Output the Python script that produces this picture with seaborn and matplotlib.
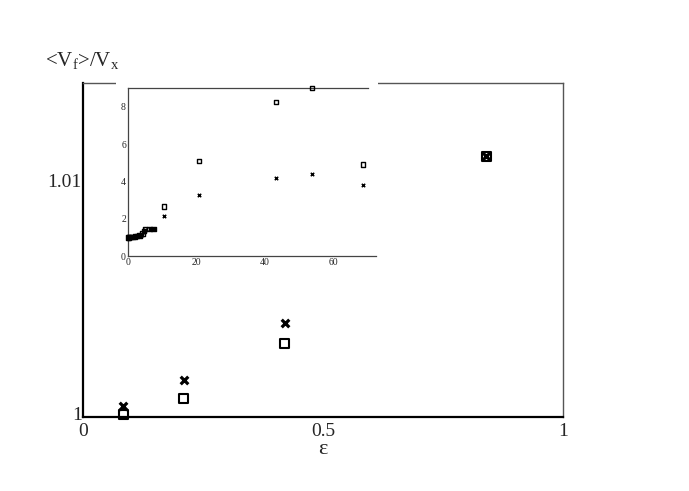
import matplotlib
matplotlib.use("Agg")
import matplotlib.pyplot as plt
import matplotlib.transforms as mtransforms
import seaborn as sns
import pandas as pd
from matplotlib.patches import Rectangle

# Main panel data
eps_main = [0.084, 0.21, 0.42, 0.84]
sq_main = [1.0001, 1.00077, 1.0031, 1.0110]
x_main = [1.00046, 1.00155, 1.00398, 1.0110]

# Inset data
eps_in = [0.084, 0.21, 0.42, 0.84, 1.3, 2.0, 2.7, 3.4, 4.2, 4.6, 5.0, 6.3, 7.5,
          10.5, 20.8, 43.2, 53.8, 68.6]
sq_in = [1.0001, 1.0008, 1.003, 1.011, 1.02, 1.04, 1.06, 1.09, 1.2, 1.35, 1.45,
         1.45, 1.45, 2.65, 5.1, 8.25, 9.0, 4.9]
x_in = [1.0005, 1.0016, 1.004, 1.011, 1.02, 1.04, 1.06, 1.08, 1.15, 1.3, 1.4,
        1.45, 1.45, 2.15, 3.25, 4.2, 4.4, 3.8]

main_xticks = [0, 0.5, 1]
main_xticklabels = ["0", "0.5", "1"]
main_yticks = [1.0, 1.01]
main_yticklabels = ["1", "1.01"]
in_xticks = [0, 20, 40, 60]
in_yticks = [0, 2, 4, 6, 8]

sns.set_style("white")
plt.rcParams['font.family'] = ['Liberation Serif', 'DejaVu Serif']
plt.rcParams['mathtext.fontset'] = 'custom'
plt.rcParams['mathtext.rm'] = 'Liberation Serif'
plt.rcParams['mathtext.it'] = 'Liberation Serif:italic'

fig = plt.figure(figsize=(6.89, 4.91), dpi=100)
ax = fig.add_axes([83/689, 1-417/491, (563-83)/689, (417-83)/491])

dm_sq = pd.DataFrame({"eps": eps_main, "v": sq_main})
dm_x = pd.DataFrame({"eps": eps_main, "v": x_main})
sns.scatterplot(data=dm_sq, x="eps", y="v", ax=ax, marker="s", s=45,
                facecolor="none", edgecolor="black", linewidth=1.5, zorder=3,
                clip_on=False)
sns.scatterplot(data=dm_x, x="eps", y="v", ax=ax, marker="x", s=30,
                color="black", linewidth=2.3, zorder=4, clip_on=False)
ax.set_xlim(0, 1)
ax.set_ylim(1.0, 1.0141)
ax.set_xticks(main_xticks)
ax.set_xticklabels(main_xticklabels)
ax.set_yticks(main_yticks)
ax.set_yticklabels(main_yticklabels)
ax.tick_params(direction="in", length=9, width=1.3, labelsize=14, color="black",
               pad=4)
ax.tick_params(axis="y", pad=1)
ax.set_xlabel("ε", fontsize=16, labelpad=0)
ax.set_ylabel("")
shift_up = mtransforms.ScaledTranslation(0, 4/100, fig.dpi_scale_trans)
ylabs = ax.get_yticklabels()
ylabs[0].set_transform(ylabs[0].get_transform() + shift_up)
for side in ["left", "bottom"]:
    ax.spines[side].set_color("black")
    ax.spines[side].set_linewidth(1.6)
for side in ["top", "right"]:
    ax.spines[side].set_color("#555555")
    ax.spines[side].set_linewidth(1.0)

fig.text(45/689, 1-66/491, r"<V$_\mathrm{f}$>/V$_\mathrm{x}$", fontsize=15,
         ha="left", va="baseline")

# white frame behind the inset (hides the main top spine there)
fig.patches.append(Rectangle((116/689, 1-270/491), (378-116)/689, (270-80)/491,
                             transform=fig.transFigure, facecolor="white",
                             edgecolor="none", zorder=0.5))

# Inset
axi = fig.add_axes([128/689, 1-256/491, (376-128)/689, (256-88)/491])
axi.set_zorder(1)
di_sq = pd.DataFrame({"eps": eps_in, "v": sq_in})
di_x = pd.DataFrame({"eps": eps_in, "v": x_in})
sns.scatterplot(data=di_sq, x="eps", y="v", ax=axi, marker="s", s=10,
                facecolor="none", edgecolor="black", linewidth=1.0, zorder=3,
                clip_on=False)
sns.scatterplot(data=di_x, x="eps", y="v", ax=axi, marker="x", s=6,
                color="black", linewidth=1.1, zorder=4, clip_on=False)
axi.set_xlim(0, 72.4)
axi.set_ylim(0, 9)
axi.set_xticks(in_xticks)
axi.set_yticks(in_yticks)
axi.tick_params(direction="in", length=3.5, width=0.8, labelsize=7, pad=1.5,
                color="#333333")
axi.set_xlabel("")
axi.set_ylabel("")
axi.spines["right"].set_visible(False)
axi.spines["top"].set_bounds(0, 70)
for side in ["left", "bottom", "top"]:
    axi.spines[side].set_color("#444444")
    axi.spines[side].set_linewidth(0.9)

fig.savefig("out.png", dpi=100)
